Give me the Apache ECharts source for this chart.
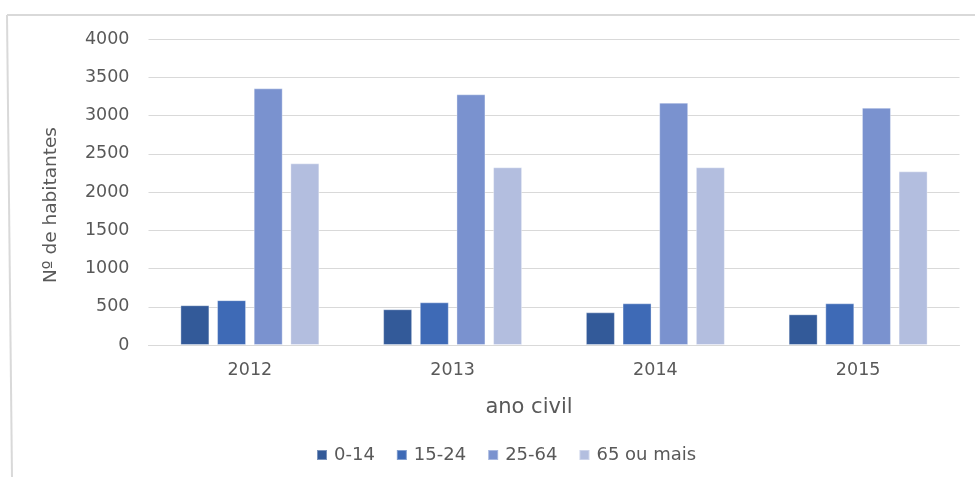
<!DOCTYPE html>
<html>
<head>
<meta charset="utf-8">
<script src="https://cdn.jsdelivr.net/npm/echarts@6/dist/echarts.min.js"></script>
<style>
  html, body { margin: 0; padding: 0; background: #fff; }
  #chart { width: 975px; height: 477px; }
</style>
</head>
<body>
<div id="chart"></div>
<script>
// Residents by age group, per civil year
const years = ['2012', '2013', '2014', '2015'];
const ageGroups = ['0-14', '15-24', '25-64', '65 ou mais'];
const age0to14 = [520, 467, 427, 401];
const age15to24 = [586, 558, 545, 545];
const age25to64 = [3355, 3277, 3168, 3102];
const age65plus = [2375, 2323, 2323, 2270];
const yTicks = { min: 0, max: 4000, interval: 500 };

const colors = ['#335a99', '#3e6ab6', '#7a92cf', '#b3bedf'];
const seriesValues = [age0to14, age15to24, age25to64, age65plus];

const font = 'DejaVu Sans';
const textColor = '#595959';

const chart = echarts.init(document.getElementById('chart'));
chart.setOption({
  animation: false,
  textStyle: { fontFamily: font },
  grid: { left: 148.5, right: 15.5, top: 39, bottom: 132 },
  graphic: [
    { type: 'line', shape: { x1: 7, y1: 15, x2: 975, y2: 15 }, style: { stroke: '#d9d9d9', lineWidth: 2 } },
    { type: 'line', shape: { x1: 7, y1: 15, x2: 12, y2: 477 }, style: { stroke: '#d9d9d9', lineWidth: 2 } }
  ],
  legend: {
    data: ageGroups,
    bottom: 8,
    left: 311,
    icon: 'rect',
    itemWidth: 10,
    itemHeight: 10,
    itemGap: 21,
    textStyle: { fontFamily: font, fontSize: 18, color: textColor, padding: [0, 0, 0, 2] }
  },
  xAxis: {
    type: 'category',
    data: years,
    name: 'ano civil',
    nameLocation: 'middle',
    nameGap: 52,
    nameTextStyle: { fontFamily: font, fontSize: 21, color: textColor, padding: [0, 50, 0, 0] },
    axisLine: { show: true, lineStyle: { color: '#d9d9d9', width: 1 } },
    axisTick: { show: false },
    axisLabel: { fontFamily: font, fontSize: 17.5, color: textColor, margin: 16 }
  },
  yAxis: {
    type: 'value',
    min: yTicks.min,
    max: yTicks.max,
    interval: yTicks.interval,
    name: 'Nº de habitantes',
    nameLocation: 'middle',
    nameGap: 88,
    nameRotate: 90,
    nameTextStyle: { fontFamily: font, fontSize: 18.5, color: textColor, padding: [0, 26, 0, 0] },
    axisLine: { show: false },
    axisTick: { show: false },
    axisLabel: { fontFamily: font, fontSize: 17.5, color: textColor, margin: 19, formatter: v => String(v) },
    splitLine: { lineStyle: { color: '#d9d9d9', width: 1 } }
  },
  series: ageGroups.map((name, i) => ({
    name,
    type: 'bar',
    data: seriesValues[i],
    barWidth: 29,
    barGap: '26.4%',
    itemStyle: { color: colors[i], borderColor: 'rgba(255,255,255,0.35)', borderWidth: 1 }
  }))
});
</script>
</body>
</html>
